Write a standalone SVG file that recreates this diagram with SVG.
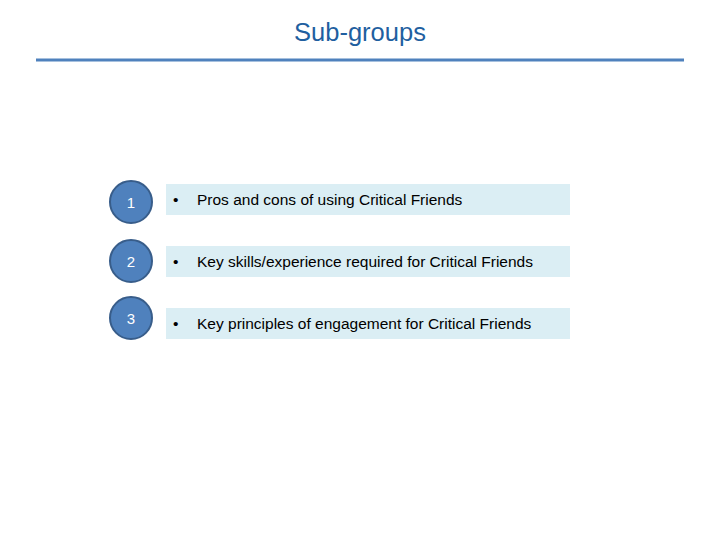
<svg xmlns="http://www.w3.org/2000/svg" width="720" height="540" viewBox="0 0 720 540">
<style>
.c{fill:#4f81bd;stroke:#385d8a;stroke-width:2}
.n{font-family:"Liberation Sans",Arial,sans-serif;font-size:15px;fill:#fff;text-anchor:middle}
.b{fill:#dbeef4}
.t{font-family:"Liberation Sans",Arial,sans-serif;font-size:15.5px;fill:#000}
</style>
<rect width="720" height="540" fill="#fff"/>
<text x="360" y="41" font-family="'Liberation Sans',Arial,sans-serif" font-size="25.5" fill="#1f5fa0" text-anchor="middle">Sub-groups</text>
<line x1="36" y1="60" x2="684" y2="60" stroke="#4f81bd" stroke-width="3"/>
<g id="n1"><circle class="c" cx="131" cy="202" r="21"/><text class="n" x="131" y="208">1</text>
<rect class="b" x="166" y="184" width="404" height="31"/><text class="t" x="173" y="205">•</text><text class="t" x="197" y="205">Pros and cons of using Critical Friends</text></g>
<g id="n2"><circle class="c" cx="131" cy="261" r="21"/><text class="n" x="131" y="267">2</text>
<rect class="b" x="166" y="246" width="404" height="31"/><text class="t" x="173" y="267">•</text><text class="t" x="197" y="267">Key skills/experience required for Critical Friends</text></g>
<g id="n3"><circle class="c" cx="131" cy="318" r="21"/><text class="n" x="131" y="324">3</text>
<rect class="b" x="166" y="308" width="404" height="31"/><text class="t" x="173" y="329">•</text><text class="t" x="197" y="329">Key principles of engagement for Critical Friends</text></g>
<g id="connectors"/>
</svg>
